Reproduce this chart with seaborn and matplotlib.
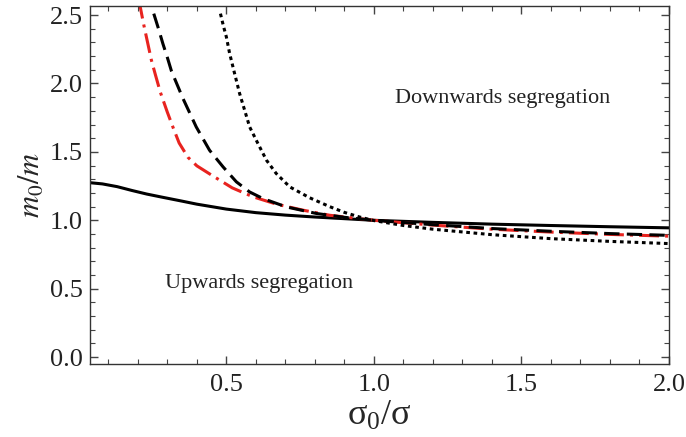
import matplotlib
matplotlib.use("Agg")
import matplotlib.pyplot as plt
from matplotlib.ticker import MultipleLocator, FormatStrFormatter
import pandas as pd
import seaborn as sns

# values
x_solid = [0.037, 0.08, 0.13, 0.18, 0.23, 0.28, 0.35, 0.40, 0.50, 0.60, 0.70, 0.80,
           0.90, 1.00, 1.20, 1.40, 1.60, 1.80, 2.00]
y_solid = [1.275, 1.266, 1.246, 1.218, 1.192, 1.170, 1.140, 1.118, 1.082, 1.056, 1.038,
           1.024, 1.012, 1.000, 0.985, 0.972, 0.962, 0.953, 0.945]

x_dashdot = [0.198, 0.22, 0.246, 0.26, 0.276, 0.30, 0.32, 0.34, 0.37, 0.40, 0.45, 0.52,
             0.59, 0.67, 0.76, 0.85, 1.00, 1.20, 1.40, 1.60, 1.80, 2.00]
y_dashdot = [2.67, 2.43, 2.17, 2.06, 1.938, 1.79, 1.675, 1.565, 1.46, 1.398, 1.33, 1.237,
             1.172, 1.118, 1.074, 1.037, 1.000, 0.965, 0.935, 0.914, 0.897, 0.884]

x_dashed = [0.254, 0.27, 0.285, 0.30, 0.314, 0.353, 0.398, 0.443, 0.489, 0.534, 0.579,
            0.624, 0.703, 0.805, 0.90, 1.00, 1.20, 1.40, 1.60, 1.80, 2.00]
y_dashed = [2.51, 2.40, 2.29, 2.19, 2.09, 1.89, 1.682, 1.512, 1.39, 1.281, 1.207,
            1.159, 1.098, 1.050, 1.022, 1.000, 0.968, 0.940, 0.920, 0.903, 0.890]

x_dotted = [0.48, 0.49, 0.50, 0.511, 0.528, 0.545, 0.562, 0.579, 0.607, 0.636, 0.669,
            0.715, 0.782, 0.85, 0.90, 0.95, 1.00, 1.10, 1.20, 1.40, 1.60, 1.80, 2.00]
y_dotted = [2.51, 2.42, 2.34, 2.22, 2.072, 1.926, 1.804, 1.682, 1.561, 1.439, 1.342,
            1.244, 1.165, 1.100, 1.058, 1.025, 0.998, 0.962, 0.935, 0.895, 0.866, 0.846,
            0.830]

sns.set_style("ticks")
plt.rcParams['font.family'] = ['Liberation Serif', 'DejaVu Serif']
plt.rcParams['mathtext.fontset'] = 'stix'

fig = plt.figure(figsize=(6.86, 4.37), dpi=100)
ax = fig.add_axes([0.1308, 0.167, 0.8444, 0.819])

lw = 2.2
sns.lineplot(data=pd.DataFrame({'x': x_solid, 'y': y_solid}), x='x', y='y',
             color='black', lw=lw, ax=ax, sort=False)
sns.lineplot(data=pd.DataFrame({'x': x_dashdot, 'y': y_dashdot}), x='x', y='y',
             color='#e8231f', lw=lw, ax=ax, sort=False)
ax.lines[-1].set_dashes([6.5, 2, 1, 2])
sns.lineplot(data=pd.DataFrame({'x': x_dashed, 'y': y_dashed}), x='x', y='y',
             color='black', lw=lw, ax=ax, sort=False)
ax.lines[-1].set_dashes([5, 2.4])
sns.lineplot(data=pd.DataFrame({'x': x_dotted, 'y': y_dotted}), x='x', y='y',
             color='black', lw=lw, ax=ax, sort=False)
ax.lines[-1].set_dashes([1.2, 1.2])

ax.set_xlim(0.037, 2.0)
ax.set_ylim(-0.05, 2.565)
ax.xaxis.set_major_locator(MultipleLocator(0.5))
ax.xaxis.set_minor_locator(MultipleLocator(0.1))
ax.yaxis.set_major_locator(MultipleLocator(0.5))
ax.yaxis.set_minor_locator(MultipleLocator(0.1))
ax.xaxis.set_major_formatter(FormatStrFormatter('%.1f'))
ax.yaxis.set_major_formatter(FormatStrFormatter('%.1f'))
ax.tick_params(which='both', direction='in', top=True, right=True, color='#444444',
               labelsize=19, labelcolor='#222222')
ax.tick_params(which='major', length=6, width=1)
ax.tick_params(which='minor', length=3.5, width=0.8)
ax.tick_params(axis='x', pad=7)
ax.tick_params(axis='y', pad=5)
for s in ax.spines.values():
    s.set_color('#333333')
    s.set_linewidth(1.0)

ax.set_xlabel(r'$\mathregular{\sigma_0/\sigma}$', fontsize=26, labelpad=3)
ax.set_ylabel(r'$m_0/m$', fontsize=22, labelpad=2)

ax.text(0.712, 0.743, 'Downwards segregation', transform=ax.transAxes, fontsize=16,
        ha='center', va='center', color='#222222')
ax.text(0.293, 0.226, 'Upwards segregation', transform=ax.transAxes, fontsize=16,
        ha='center', va='center', color='#222222')

fig.savefig('out.png', dpi=100)
